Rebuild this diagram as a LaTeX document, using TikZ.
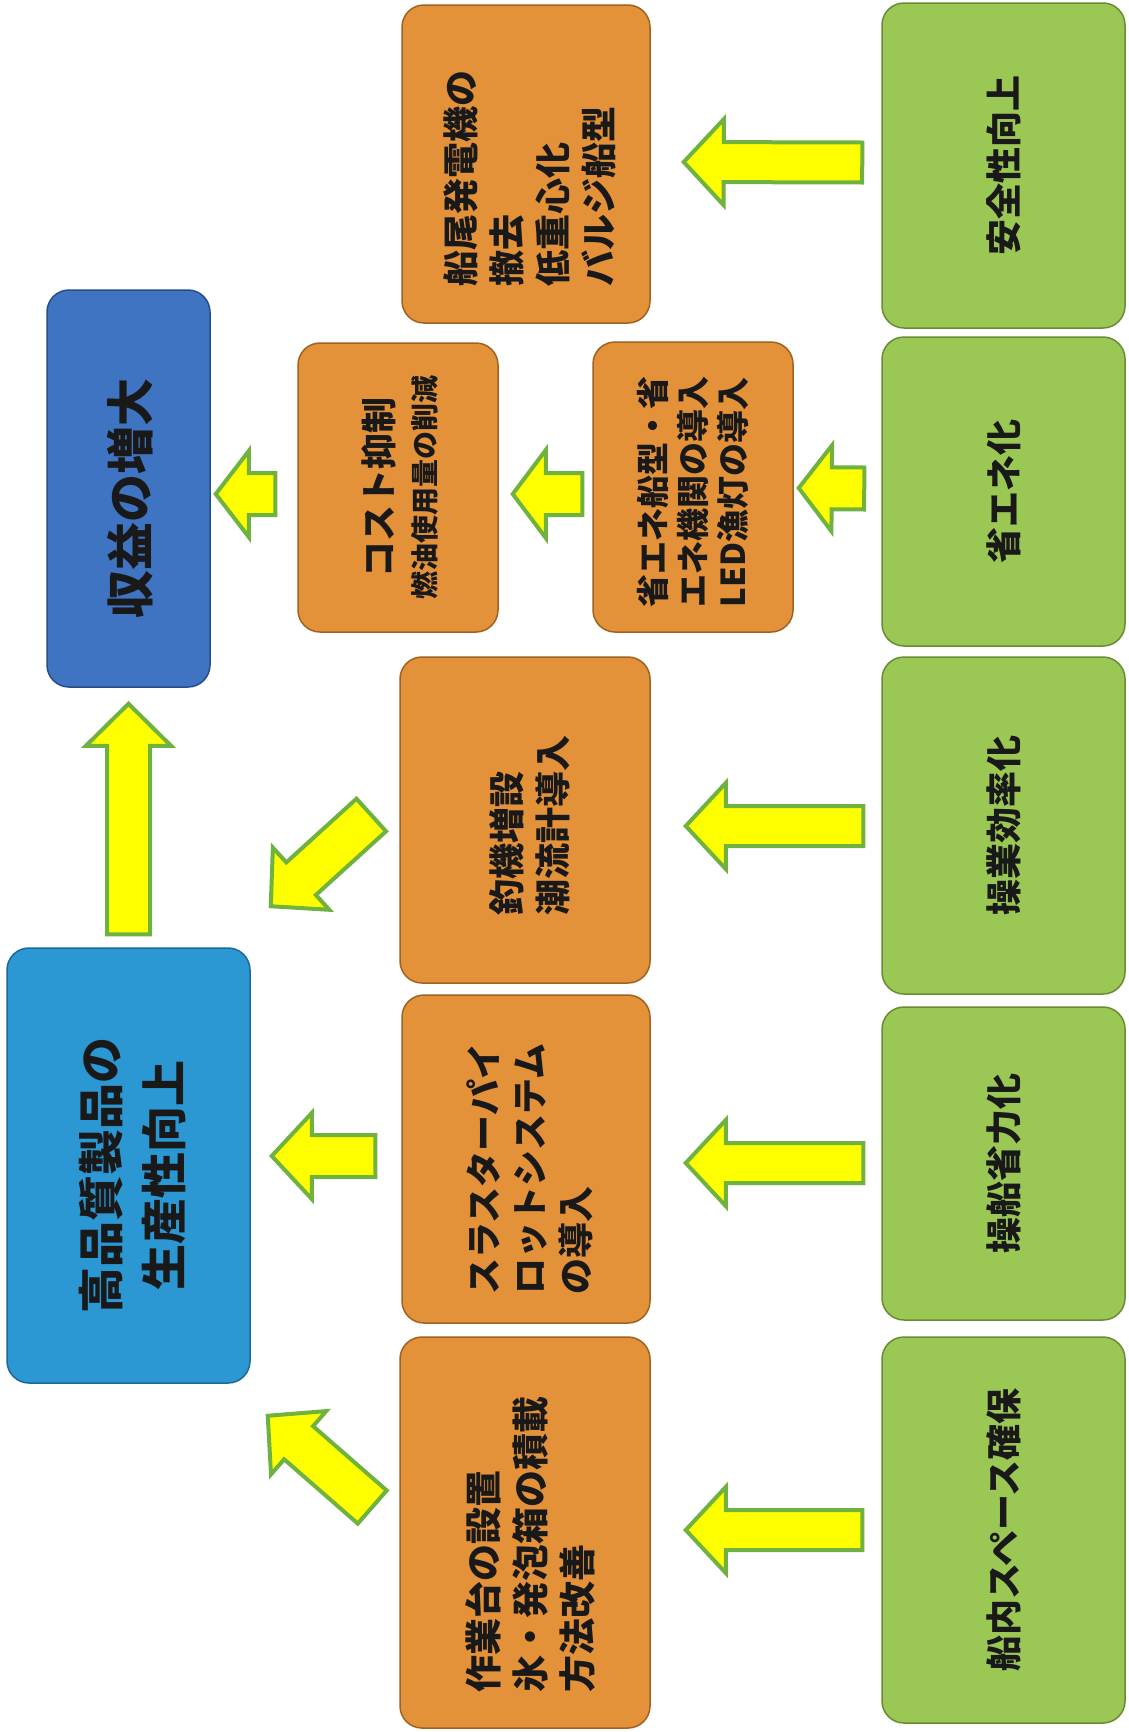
\documentclass[tikz,border=0pt]{standalone}
\usepackage{fontspec}
\setmainfont{Noto Sans CJK JP}
\usetikzlibrary{calc}
\definecolor{gfill}{RGB}{155,199,84}
\definecolor{gline}{RGB}{104,140,52}
\definecolor{ofill}{RGB}{228,146,58}
\definecolor{oline}{RGB}{160,98,32}
\definecolor{bdfill}{RGB}{62,116,194}
\definecolor{bdline}{RGB}{40,78,138}
\definecolor{blfill}{RGB}{43,151,211}
\definecolor{blline}{RGB}{28,104,152}
\definecolor{arfill}{RGB}{255,255,0}
\definecolor{arline}{RGB}{112,178,64}
\definecolor{txt}{RGB}{25,25,25}
\tikzset{
  box/.style={rounded corners=22pt, line width=1.5pt, inner sep=0pt},
  gbox/.style={box, fill=gfill, draw=gline},
  obox/.style={box, fill=ofill, draw=oline},
  bdbox/.style={box, fill=bdfill, draw=bdline},
  blbox/.style={box, fill=blfill, draw=blline},
  lbl/.style={rotate=90, text=txt, font=\bfseries\fontsize{36}{46}\selectfont, inner sep=0pt},
  blockarrow/.style={fill=arfill, draw=arline, line width=4pt, line join=miter}
}
% #1 tail, #2 tip, #3 shaft half width, #4 head half width, #5 head length
\newcommand\barrow[5]{%
  \coordinate (ta) at #1;
  \coordinate (tb) at #2;
  \coordinate (th) at ($(tb)!#5!(ta)$);
  \draw[blockarrow] ($(ta)!#3!90:(tb)$) -- ($(th)!#3!-90:(ta)$) -- ($(th)!#4!-90:(ta)$)
    -- (tb) -- ($(th)!#4!90:(ta)$) -- ($(th)!#3!90:(ta)$) -- ($(ta)!#3!-90:(tb)$) -- cycle;
}
\begin{document}
\begin{tikzpicture}[x=1pt,y=1pt]
\useasboundingbox (0,0) rectangle (1129,-1732);
\fill[white] (0,0) rectangle (1129,-1732);
% green column
\node[gbox, minimum width=243pt, minimum height=325pt] (g1) at (1003.5,-165.5) {};
\node[gbox, minimum width=243pt, minimum height=309pt] (g2) at (1003.5,-491.5) {};
\node[gbox, minimum width=243pt, minimum height=337pt] (g3) at (1003.5,-825.5) {};
\node[gbox, minimum width=243pt, minimum height=313pt] (g4) at (1003.5,-1163.5) {};
\node[gbox, minimum width=243pt, minimum height=386pt] (g5) at (1003.5,-1530) {};
\node[lbl] at (g1) {安全性向上};
\node[lbl] at (g2) {省エネ化};
\node[lbl] at (g3) {操業効率化};
\node[lbl] at (g4) {操船省力化};
\node[lbl] at (g5) {船内スペース確保};
% orange boxes
\node[obox, minimum width=248pt, minimum height=318pt] (o1) at (526,-164) {};
\node[obox, minimum width=200pt, minimum height=290pt] (o2a) at (693,-487) {};
\node[obox, minimum width=200pt, minimum height=289pt] (o2b) at (398,-487.5) {};
\node[obox, minimum width=250pt, minimum height=326pt] (o3) at (525,-820) {};
\node[obox, minimum width=248pt, minimum height=328pt] (o4) at (526,-1159) {};
\node[obox, minimum width=250pt, minimum height=391pt] (o5) at (525,-1532.5) {};
\node[lbl, align=left] at ($(o1)+(4,-14)$) {船尾発電機の\\撤去\\低重心化\\バルジ船型};
\node[lbl, align=left, font=\bfseries\fontsize{33}{40}\selectfont] at ($(o2a)+(0,-5)$) {省エネ船型・省\\エネ機関の導入\\LED漁灯の導入};
\node[lbl, align=center, font=\bfseries\fontsize{36}{43}\selectfont] at ($(o2b)+(2,0)$) {コスト抑制\\{\fontsize{28}{34}\selectfont 燃油使用量の削減}};
\node[lbl, align=left] at ($(o3)+(5,-5)$) {釣機増設\\潮流計導入};
\node[lbl, align=left] at ($(o4)+(4,-10)$) {スラスターパイ\\ロットシステム\\の導入};
\node[lbl, align=left, font=\bfseries\fontsize{37}{47}\selectfont] at ($(o5)+(5,-12)$) {作業台の設置\\氷・発泡箱の積載\\方法改善};
% blue boxes
\node[bdbox, minimum width=163pt, minimum height=397pt] (b1) at (128.5,-488.5) {};
\node[blbox, minimum width=243pt, minimum height=435pt] (b2) at (128.5,-1165.5) {};
\node[lbl, font=\bfseries\fontsize{48}{60}\selectfont] at ($(b1)+(2,-10)$) {収益の増大};
\node[lbl, align=center, font=\bfseries\fontsize{46}{63}\selectfont] at ($(b2)+(4,-10)$) {高品質製品の\\生産性向上};
% arrows
\barrow{($(g1.west)+(-19,3)$)}{($(o1.east)+(33,2)$)}{20pt}{43pt}{40pt}
\barrow{($(g2.west)+(-17,3)$)}{($(o2a.east)+(5,-1)$)}{21pt}{43pt}{33pt}
\barrow{($(o2a.west)+(-10,-7)$)}{($(o2b.east)+(14,-6.5)$)}{21pt}{44pt}{33pt}
\barrow{($(o2b.west)+(-22,-6.5)$)}{($(b1.east)+(5,-5.5)$)}{21pt}{43pt}{33pt}
\barrow{($(g3.west)+(-18,-0.5)$)}{($(o3.east)+(35,-6)$)}{20pt}{43pt}{40pt}
\barrow{($(o3.west)+(-28,5)$)}{($(b2.north east)+(20,41)$)}{22pt}{42pt}{41pt}
\barrow{($(g4.west)+(-18,0.5)$)}{($(o4.east)+(35,-4)$)}{20pt}{43pt}{40pt}
\barrow{($(o4.west)+(-26,3)$)}{($(b2.east)+(21,9.5)$)}{21pt}{43pt}{40pt}
\barrow{($(g5.west)+(-19,0)$)}{($(o5.east)+(35,2.5)$)}{20pt}{43pt}{40pt}
\barrow{($(o5.west)+(-27,25.5)$)}{($(b2.south east)+(17,-32)$)}{22pt}{42pt}{41pt}
\barrow{($(b2.north)+(0,13)$)}{($(b1.south)+(0,-16)$)}{21.5pt}{42.5pt}{42pt}
\end{tikzpicture}
\end{document}
